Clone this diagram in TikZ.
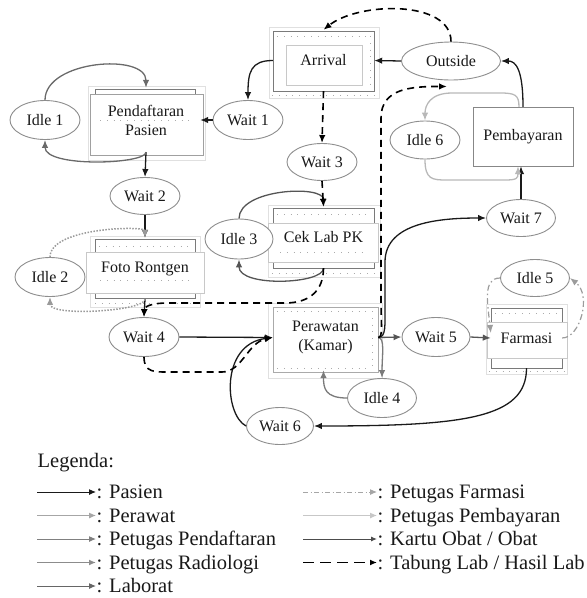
\documentclass[tikz,border=0pt]{standalone}
\usepackage{fontspec}
\setmainfont{Liberation Serif}
\usetikzlibrary{arrows.meta,shapes.geometric,calc}
\definecolor{cPas}{HTML}{1A1A1A}
\definecolor{cPer}{HTML}{7A7A7A}
\definecolor{cPen}{HTML}{6A6A6A}
\definecolor{cRad}{HTML}{9A9A9A}
\definecolor{cLab}{HTML}{555555}
\definecolor{cFar}{HTML}{9C9C9C}
\definecolor{cBay}{HTML}{B8B8B8}
\definecolor{cObt}{HTML}{555555}
\definecolor{cEll}{HTML}{8E8E8E}
\definecolor{cFaint}{HTML}{E0E0E0}
\definecolor{cTab}{HTML}{7A7A7A}
\definecolor{cBand}{HTML}{C8C8C8}
\definecolor{cDot}{HTML}{ABABAB}
\begin{document}
\begin{tikzpicture}[x=1pt,y=-1pt,
  every node/.style={font=\fontsize{16}{19}\selectfont,text=black!90},
  ell/.style={ellipse,draw=cEll,line width=0.9pt,fill=white,minimum width=70pt,minimum height=39pt,inner sep=0pt},
  anch/.style={rectangle,inner sep=0pt,align=center},
  faint/.style={draw=cFaint,line width=0.8pt},
  tabbox/.style={draw=cTab,line width=1pt},
  band/.style={draw=cBand,fill=white,line width=0.8pt},
  dotl/.style={draw=cDot,line width=0.7pt,dash pattern=on 0.8pt off 6pt},
  arr/.style={-{Latex[length=8pt,width=6.5pt]},line width=1.3pt},
  pasien/.style={arr,color=cPas},
  perawat/.style={arr,color=cPer},
  pendaf/.style={arr,color=cPen},
  radio/.style={arr,color=cRad,line width=1.5pt,dash pattern=on 1.5pt off 1.5pt},
  labor/.style={arr,color=cLab},
  farmasi/.style={arr,color=cFar,line width=1.2pt,dash pattern=on 6pt off 3pt on 1.5pt off 3pt},
  bayar/.style={arr,color=cBay},
  obat/.style={arr,color=cObt},
  tabung/.style={arr,color=black,line width=1.6pt,dash pattern=on 7pt off 5pt},
  legt/.style={anchor=west,inner sep=0.5pt,text height=17pt,text depth=4pt,font=\fontsize{20.5}{24}\selectfont},
  larr/.style={-{Latex[length=7pt,width=6pt]},line width=1pt},
]
\useasboundingbox (0,0) rectangle (587,598);

% ---------- box decorations ----------
% Arrival
\draw[faint] (269,27) rectangle (379,98);
\draw[draw=cTab,line width=1pt] (273,31) rectangle (374,91);
\draw[dotl] (277,36) -- (370,36);
\draw[dotl] (370,36) -- (370,88);
\draw[dotl] (272,95) -- (377,95);
\draw[draw=cBand,line width=0.9pt] (286,45) rectangle (362,85);
% Pendaftaran
\draw[faint] (88,86) rectangle (205,160);
\draw[tabbox] (95,89) rectangle (195,96);
\draw[band,draw=cBand!80!black] (90,94) rectangle (203,155);
\draw[dotl] (100,120) -- (190,120);
% Foto Rontgen
\draw[faint] (90,236) rectangle (200,307);
\draw[tabbox] (95,239) rectangle (195,298);
\draw[dotl] (99,246) -- (192,246);
\draw[dotl] (95,303) -- (197,303);
\draw[band] (86,252) rectangle (204,293);
\draw[dotl] (100,280) -- (190,280);
% Cek Lab PK
\draw[faint] (268,205) rectangle (380,277);
\draw[tabbox] (273,208) rectangle (374,268);
\draw[dotl] (277,214) -- (370,214);
\draw[dotl] (272,273) -- (377,273);
\draw[band] (268,223) rectangle (378,262);
\draw[dotl] (280,252) -- (366,252);
% Perawatan
\draw[faint] (268,303) rectangle (382,378);
\draw[draw=cBand!85!black,line width=1pt] (273,307) rectangle (378,372);
\draw[dotl] (372,311) -- (372,368);
\draw[dotl] (277,368) -- (372,368);
\draw[dotl] (277,311) -- (372,311);
% Farmasi
\draw[faint] (486,304) rectangle (567,374);
\draw[tabbox] (491,308) rectangle (562,368);
\draw[dotl] (495,313) -- (558,313);
\draw[dotl] (489,371) -- (564,371);
\draw[band] (487,322) rectangle (567,358);
% Pembayaran
\draw[draw=cTab!90!white,line width=1pt,fill=white] (473,107) rectangle (573,166);

% ---------- nodes ----------
\node[anch,minimum width=101pt,minimum height=61pt] (arrival) at (323.5,60.5) {Arrival};
\node[anch,minimum width=108pt,minimum height=64pt] (pend) at (146,120) {Pendaftaran\\Pasien};
\node[anch,minimum width=100pt,minimum height=61pt] (foto) at (145,268.5) {Foto Rontgen};
\node[anch,minimum width=101pt,minimum height=61pt] (ceklab) at (323.5,237.5) {Cek Lab PK};
\node[anch,minimum width=105pt,minimum height=65pt] (peraw) at (325.5,337.5) {Perawatan\\(Kamar)};
\node[anch,minimum width=71pt,minimum height=60pt] (farm) at (526.5,338) {Farmasi};
\node[anch,minimum width=100pt,minimum height=59pt] (pemb) at (523,136.5) {Pembayaran};

\node[ell,minimum width=99pt,minimum height=38pt] (outside) at (451,61) {Outside};
\node[ell] (idle1) at (45,120) {Idle 1};
\node[ell] (wait1) at (248,120) {Wait 1};
\node[ell,minimum height=37pt] (wait2) at (145,196) {Wait 2};
\node[ell,minimum height=37pt] (wait3) at (322,162) {Wait 3};
\node[ell,minimum height=38pt] (idle6) at (425,140) {Idle 6};
\node[ell,minimum width=69pt,minimum height=37pt] (wait7) at (521,218) {Wait 7};
\node[ell,minimum width=68pt,minimum height=40pt] (idle3) at (239,239) {Idle 3};
\node[ell] (idle2) at (50,277) {Idle 2};
\node[ell] (wait4) at (144,337) {Wait 4};
\node[ell,minimum width=68pt] (wait5) at (436,337) {Wait 5};
\node[ell,minimum width=69pt,minimum height=37pt] (idle5) at (535,278) {Idle 5};
\node[ell,minimum width=69pt] (idle4) at (382,398) {Idle 4};
\node[ell,minimum width=67pt,minimum height=37pt] (wait6) at (280,426) {Wait 6};

% ---------- connectors ----------
% Pasien
\draw[pasien] (outside.west) -- (arrival.east);
\draw[pasien] (arrival.west) .. controls +(-22,0) and +(0,-28) .. (wait1.north);
\draw[pasien] (wait1.west) -- (pend.east);
\draw[pasien] (pend.south) -- (wait2.north);
\draw[pasien] (wait2.south) -- (foto.north);
\draw[pasien] (foto.south) -- (wait4.north);
\draw[pasien] (wait4.east) -- (peraw.west);
\draw[pasien] (peraw.east) .. controls +(8,0) and +(0,20) .. (385,305) -- (385,262) .. controls +(0,-40) and +(-45,0) .. (wait7.west);
\draw[pasien] (wait7.north) -- (wait7.north |- pemb.south);
\draw[pasien] (pemb.north) .. controls +(0,-37) and +(15,0) .. (outside.east);
\draw[pasien] (farm.south) .. controls +(0,50) and +(150,0) .. (wait6.east);
\draw[pasien] (wait6.west) .. controls +(-21.5,-11) and +(-53,7) .. (peraw.west);
% Petugas Pendaftaran
\draw[pendaf] (idle1.north) .. controls +(0,-40) and +(0,-35) .. (pend.north);
\draw[pendaf] (pend.south) .. controls +(0,12) and +(0,28) .. (idle1.south);
% Petugas Radiologi
\draw[radio] (idle2.north) .. controls +(0,-30) and +(0,-12) .. (foto.north);
\draw[radio] (foto.south) .. controls +(0,12) and +(0,20) .. (idle2.south);
% Laborat
\draw[labor] (idle3.north) .. controls +(0,-30) and +(0,-22) .. (ceklab.north);
\draw[labor] (ceklab.south) .. controls +(0,16) and +(0,28) .. (idle3.south);
% Perawat
\draw[perawat] (peraw.east) .. controls +(7,0) and +(0,-22) .. (idle4.north);
\draw[perawat] (idle4.west) .. controls +(-22,0) and +(0,18) .. ($(peraw.south)+(-2,0)$);
% Kartu Obat / Obat
\draw[obat] (peraw.east) -- (wait5.west);
\draw[obat] (wait5.east) -- (farm.west);
% Petugas Farmasi
\draw[farmasi] (idle5.west) .. controls +(-18,0) and +(-3,-28) .. ($(farm.west)+(0,-5)$);
\draw[farmasi] (farm.east) .. controls +(18,0) and +(22,17) .. (idle5.east);
% Petugas Pembayaran
\draw[bayar] ($(pemb.north)+(-4,0)$) .. controls +(0,-12) and +(15,0) .. (500,93) -- (452,93) .. controls +(-22,0) and +(0,-15) .. (idle6.north);
\draw[bayar] (idle6.south) .. controls +(0,20) and +(-15,0) .. (447,180) -- (505,180) .. controls +(12,0) and +(0,12) .. ($(pemb.south)+(-5,0)$);
% Tabung Lab / Hasil Lab
\draw[tabung] (outside.north) .. controls +(0,-42) and +(35,-28) .. (arrival.north);
\draw[tabung] (arrival.south) -- (wait3.north);
\draw[tabung] (wait3.south) -- (ceklab.north);
\draw[tabung] (ceklab.south) .. controls +(0,22) and +(25,0) .. (285,303) -- (168,303) .. controls +(-18,0) and +(0,-10) .. (wait4.north);
\draw[tabung] (wait4.south) .. controls +(0,16) and +(-15,0) .. (170,372) -- (222,372) .. controls +(20,0) and +(-25,5) .. (peraw.west);
\draw[tabung] (peraw.east) .. controls +(5,0) and +(0,25) .. (381,300) -- (381,118) .. controls +(0,-30) and +(-35,0) .. ($(outside.south)+(-4,6)$);

% ---------- legend ----------
\node[legt,text height=14pt,text depth=4pt] (lg) at (37,462) {Legenda:};
\coordinate (ls1) at (37,492);
\coordinate (ls2) at (37,515.5);
\coordinate (ls3) at (37,539);
\coordinate (ls4) at (37,562.5);
\coordinate (ls5) at (37,586);
\node[legt] (lt1) at (96,492) {: Pasien};
\node[legt] (lt2) at (96,515.5) {: Perawat};
\node[legt] (lt3) at (96,539) {: Petugas Pendaftaran};
\node[legt] (lt4) at (96,562.5) {: Petugas Radiologi};
\node[legt] (lt5) at (96,586) {: Laborat};
\draw[larr,color=cPas] (ls1) -- (lt1.west);
\draw[larr,color=black!35] (ls2) -- (lt2.west);
\draw[larr,color=black!50] (ls3) -- (lt3.west);
\draw[larr,color=black!45,line width=1.6pt] (ls4) -- (lt4.west);
\draw[larr,color=black!60] (ls5) -- (lt5.west);
\coordinate (rs1) at (303,492);
\coordinate (rs2) at (303,515.5);
\coordinate (rs3) at (303,539);
\coordinate (rs4) at (303,562.5);
\node[legt] (rt1) at (377,492) {: Petugas Farmasi};
\node[legt] (rt2) at (377,515.5) {: Petugas Pembayaran};
\node[legt] (rt3) at (377,539) {: Kartu Obat / Obat};
\node[legt] (rt4) at (377,562.5) {: Tabung Lab / Hasil Lab};
\draw[larr,color=black!35,dash pattern=on 5pt off 2.5pt on 1pt off 2.5pt] (rs1) -- (rt1.west);
\draw[larr,color=black!22] (rs2) -- (rt2.west);
\draw[-{Latex[length=6pt,width=5pt]},line width=1pt,color=black!70] (rs3) -- (rt3.west);
\draw[-{Latex[length=7pt,width=6pt]},line width=1.6pt,color=black,dash pattern=on 11pt off 6pt] (rs4) -- (rt4.west);
\end{tikzpicture}
\end{document}
